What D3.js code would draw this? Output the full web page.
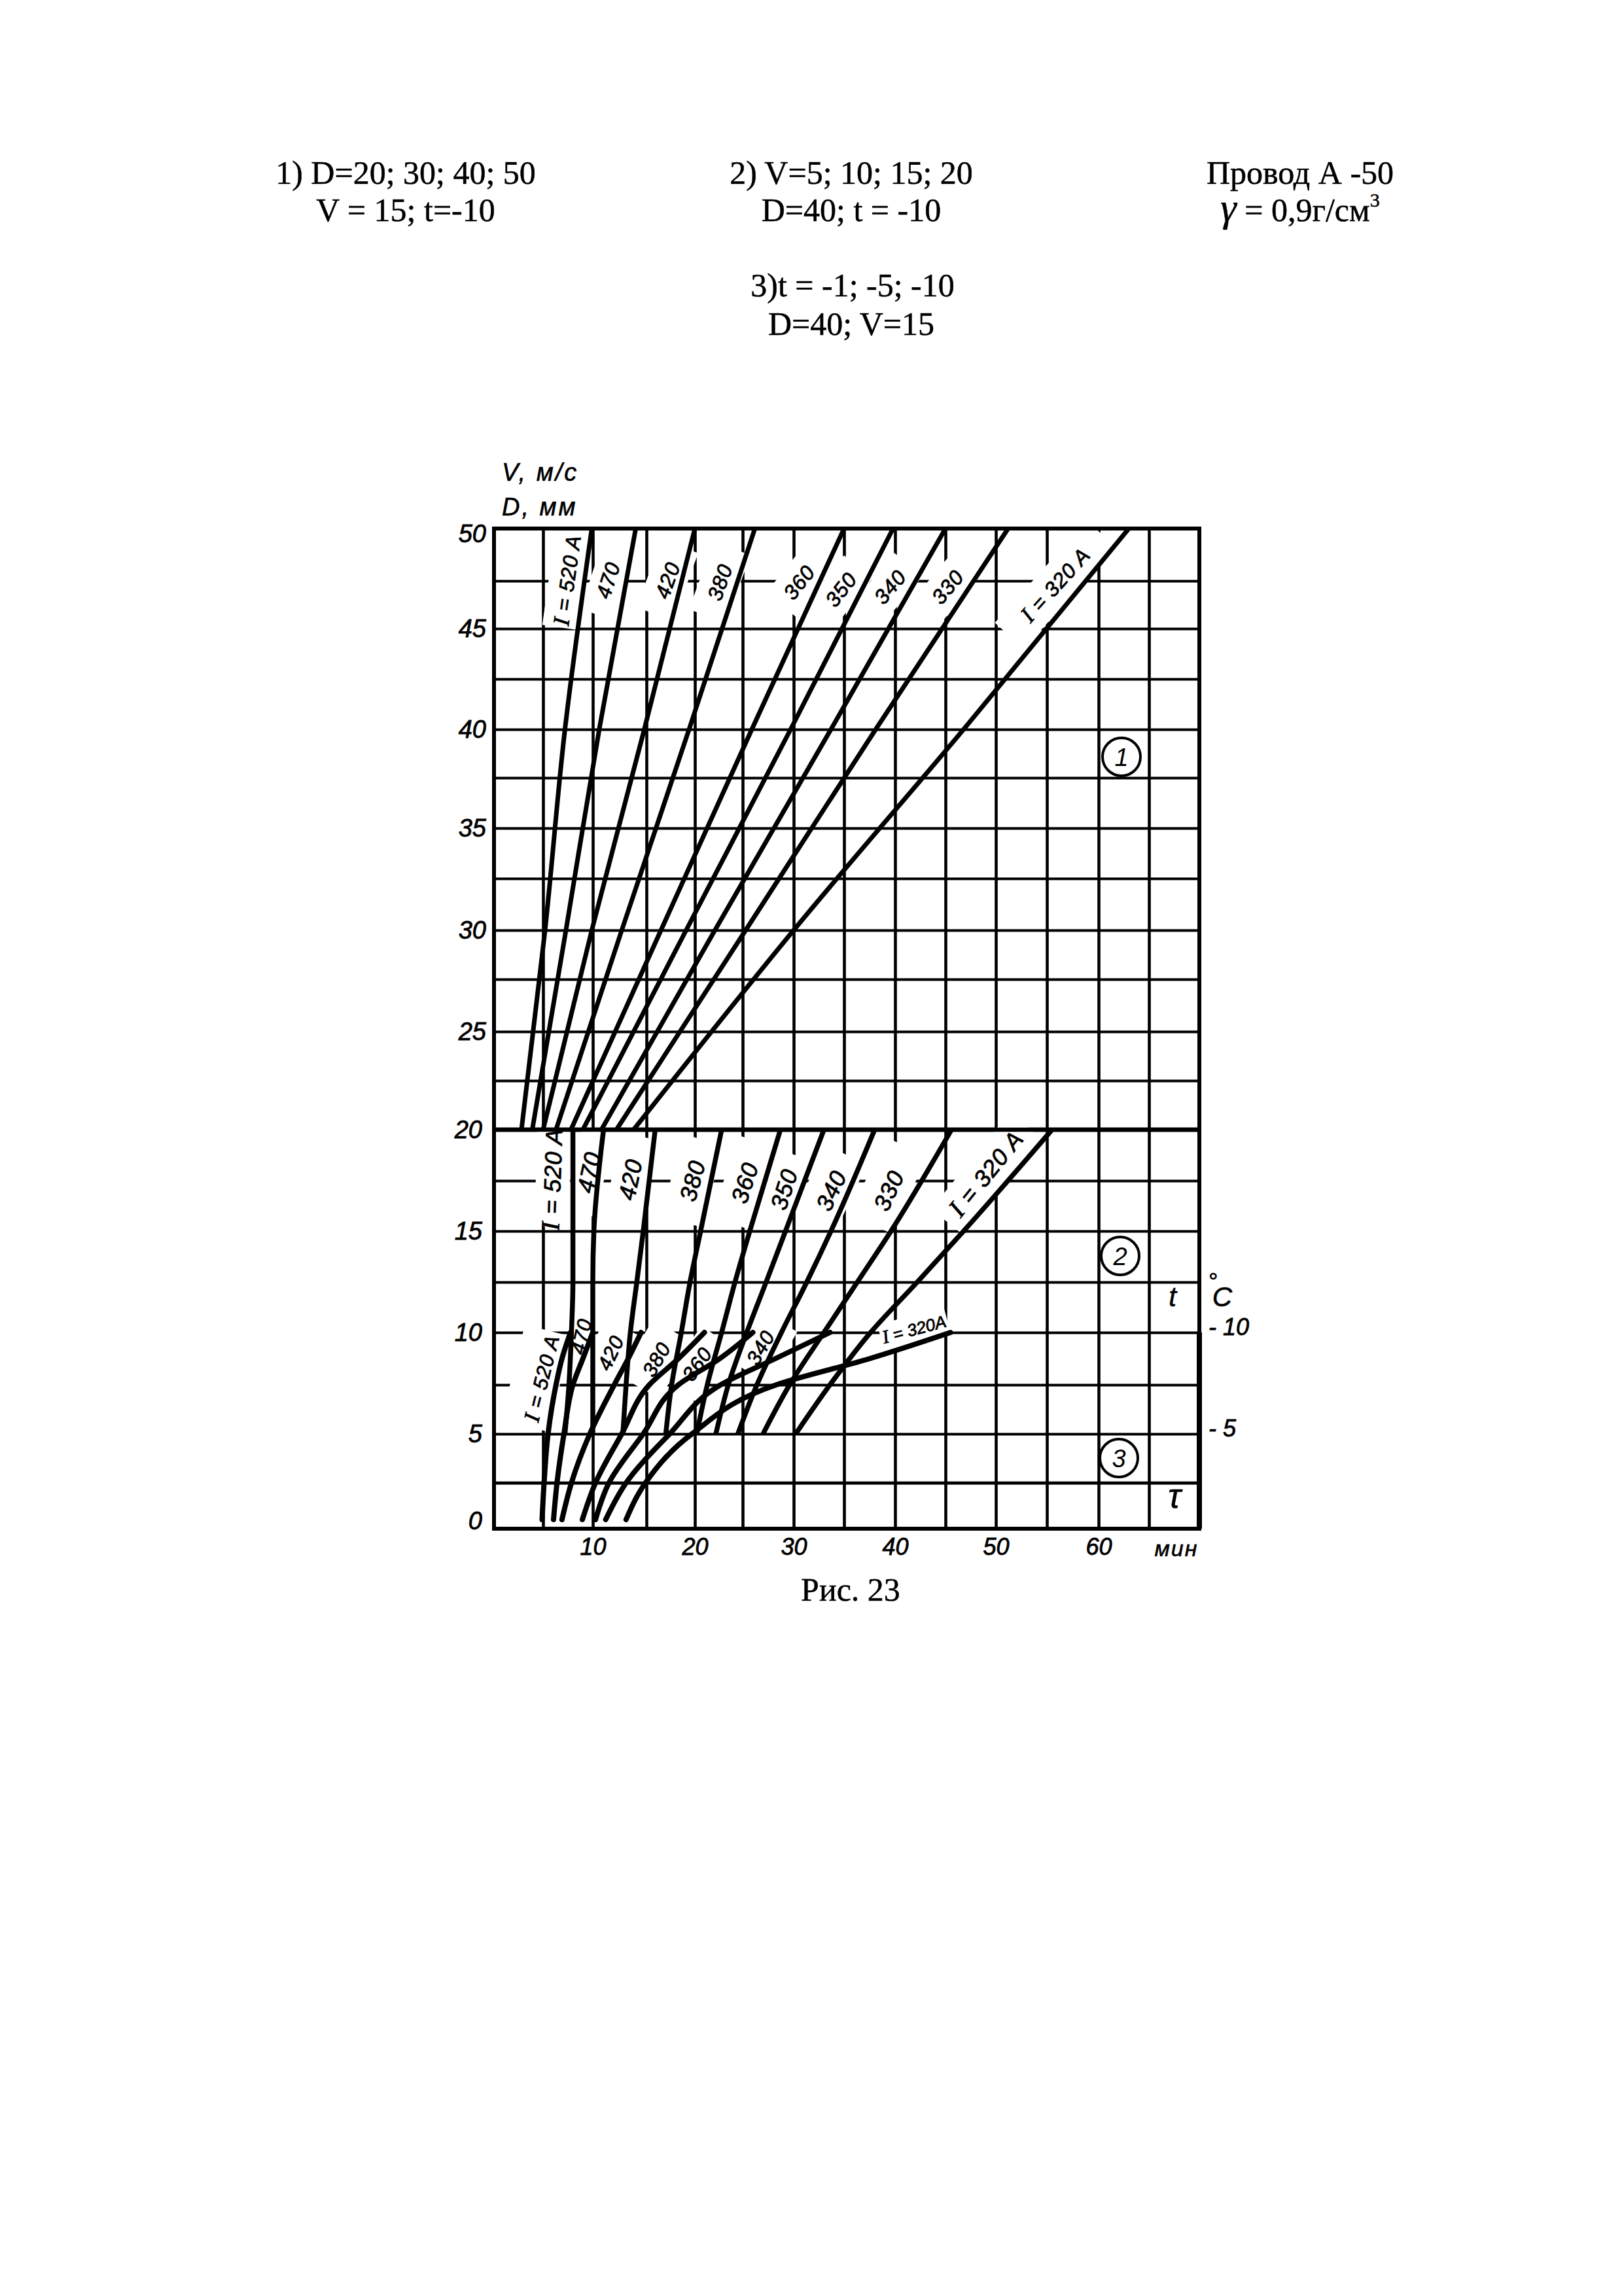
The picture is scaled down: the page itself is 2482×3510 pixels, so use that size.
<!DOCTYPE html>
<html><head><meta charset="utf-8">
<script src="https://cdn.jsdelivr.net/npm/d3@7/dist/d3.min.js"></script>
<style>html,body{margin:0;padding:0;background:#fff}svg{display:block}</style>
</head><body><div id="c"></div>
<script>
// ---- grid (minutes, V/D values) and the scan's pixel positions of those lines
const gridMinutes=[0,5,10,15,20,25,30,35,40,45,50,55,60,65,70];
const gridLevels=[0,2.5,5,7.5,10,12.5,15,17.5,20,22.5,25,27.5,30,32.5,35,37.5,40,42.5,45,47.5,50];
const minuteTicks=[10,20,30,40,50,60];
const levelTicks=[0,5,10,15,20,25,30,35,40,45,50];
const tempTicks=[5,10];

// ---- curve labels
const labels1=["I = 520 A","470","420","380","360","350","340","330","I = 320 A"];
const labels2=["I = 520 A","470","420","380","360","350","340","330","I = 320 A"];
const labels3=["I = 520 A","470","420","380","360","340","I = 320A"];

// ---- panel 1: D from 20 to 50 mm, minutes per curve
const levels1=[20,30,40,50];
const minutes1=[
 [2.8,5.2,7.2,9.9],[3.9,7.3,10.6,14],[5,9.9,14.8,20],[6.3,12.7,19.4,26.2],
 [7.8,16.5,25.9,35],[9,19.1,29.7,39.8],[10.8,22.1,33.7,45],[12.2,25.3,38.1,51.2],[13.8,30,46.8,63]];

// ---- panel 2: V from 5 to 20 m/s
const levels2=[5,7.5,10,12.5,15,20];
const minutes2=[
 [7.2,7.6,7.85,8,8,8],[10,10,10,10,10.1,11],[12.8,13.1,13.5,14.1,14.7,15.9],
 [17,17.6,18.6,19.5,20.6,22.8],[20.2,21.3,22.8,24.2,25.7,28.7],[22.2,23.5,25.4,27.3,29.2,33],
 [24.5,26.4,28.8,31.3,33.7,38],[27,29.6,33,36.3,39.6,45.6],[30.2,33.6,37.6,42.2,46.8,55.5]];

// ---- panel 3: t from -1 to -10 (same vertical scale)
const levels3=[0.5,2.5,5,7.5,8.75,10];
const minutes3=[
 [4.9,5.1,5.5,6.3,6.9,7.75],[6.05,6.4,7.1,8,9,10],[6.9,7.85,9.7,12,13.3,14.5],
 [8.95,10.25,12.7,15.3,18.3,21],[10.25,11.5,14.7,18.3,22.6,26],[11.2,13.1,17.4,22.7,28.2,33.6],
 [13.1,14.9,19.7,28.3,37.5,45.5]];

// ---- page layout
const W=2482,H=3510;
const xPx=[755,830,906,988,1062,1135,1213,1290,1368,1445,1522,1600,1679,1756,1833];
const yPx=[2337,2267,2192,2117,2037,1960,1882,1805,1727,1652,1577,1497,1422,1343,1266,1189,1115,1038,961,888,808];
const x=d3.scaleLinear().domain(gridMinutes).range(xPx);
const y=d3.scaleLinear().domain(gridLevels).range(yPx);
const BLACK="#000",SERIF="'Liberation Serif',serif",SANS="'Liberation Sans',sans-serif";

const svg=d3.select("#c").append("svg").attr("width",W).attr("height",H).attr("viewBox",[0,0,W,H]);
svg.append("rect").attr("width",W).attr("height",H).attr("fill","#fff");

// header text
const header=[
 ["1) D=20; 30; 40; 50",620,281],["V = 15; t=-10",620,338],
 ["2) V=5; 10; 15; 20",1301,281],["D=40; t = -10",1301,338],
 ["Провод А -50",1987,281],
 ["3)t = -1; -5; -10",1303,453],["D=40; V=15",1301,512],
 ["Рис. 23",1300,2447]];
svg.append("g").selectAll("text").data(header).join("text")
 .attr("x",d=>d[1]).attr("y",d=>d[2]).attr("text-anchor","middle")
 .attr("font-family",SERIF).attr("font-size",50).attr("fill",BLACK)
 .attr("stroke",BLACK).attr("stroke-width",0.5).text(d=>d[0]);
const gam=svg.append("text").attr("x",1987).attr("y",338).attr("text-anchor","middle")
 .attr("font-family",SERIF).attr("font-size",50).attr("fill",BLACK)
 .attr("stroke",BLACK).attr("stroke-width",0.5);
gam.append("tspan").attr("font-style","italic").attr("font-size",62).text("γ");
gam.append("tspan").text(" = 0,9г/см");
gam.append("tspan").attr("font-size",30).attr("dy",-22).text("3");

// grid via axes
const gv=svg.append("g").attr("transform",`translate(0,${y(0)})`)
 .call(d3.axisBottom(x).tickValues(gridMinutes).tickSize(-(y(0)-y(50))).tickFormat(""));
gv.select(".domain").remove();
gv.selectAll("line").attr("stroke",BLACK).attr("stroke-width",4.6);
const gh=svg.append("g").attr("transform",`translate(${x(0)},0)`)
 .call(d3.axisRight(y).tickValues(gridLevels).tickSize(x(70)-x(0)).tickFormat(""));
gh.select(".domain").remove();
gh.selectAll("line").attr("stroke",BLACK).attr("stroke-width",4);

// heavy rules
const heavy=[[20,6.5],[2.5,4.5]];
svg.append("g").selectAll("line").data(heavy).join("line")
 .attr("x1",x(0)).attr("x2",x(70)).attr("y1",d=>y(d[0])).attr("y2",d=>y(d[0]))
 .attr("stroke",BLACK).attr("stroke-width",d=>d[1]);

// white patches the drawing left behind its curve labels: [cx,cy,angle,length,height]
const patches=[
 [867,885,-82,150,56],[929,887,-72,110,52],[1020,887,-70,110,60],[1100,890,-70,110,60],
 [1221,890,-51,88,58],[1285,901,-52,88,56],[1360,897,-50,88,56],[1448,897,-50,88,56],[1613,894,-48,210,60],
 [845,1800,-88,150,52],[900,1792,-78,130,50],[963,1803,-78,135,56],[1058,1805,-75,130,64],
 [1138,1808,-70,130,62],[1198,1818,-70,110,56],[1270,1815,-65,110,70],[1358,1812,-65,130,70],[1507,1794,-51,190,62],
 [820,2107,-76,150,74],[888,2043,-77,90,38],[933,2068,-65,85,60],[1003,2078,-60,100,70],[1068,2085,-55,100,60],
 [1170,2060,-60,90,60],[1397,2032,-15,105,42]];
svg.append("g").selectAll("rect").data(patches).join("rect")
 .attr("x",d=>-d[3]/2).attr("y",d=>-d[4]/2).attr("width",d=>d[3]).attr("height",d=>d[4])
 .attr("transform",d=>`translate(${d[0]},${d[1]}) rotate(${d[2]})`).attr("fill","#fff");

// y=20 rule and the frame stay whole over the patches
svg.append("line").attr("x1",x(0)).attr("x2",x(70)).attr("y1",y(20)).attr("y2",y(20))
 .attr("stroke",BLACK).attr("stroke-width",6.5);
svg.append("rect").attr("x",x(0)).attr("y",y(50)).attr("width",x(70)-x(0)).attr("height",y(0)-y(50))
 .attr("fill","none").attr("stroke",BLACK).attr("stroke-width",6);
svg.append("line").attr("x1",x(70)).attr("x2",x(70)).attr("y1",y(10)).attr("y2",y(0))
 .attr("stroke",BLACK).attr("stroke-width",8);

// curves
function drawPanel(levels,minutes,width,cap){
 const line=d3.line().x(d=>x(d[0])).y(d=>y(d[1])).curve(d3.curveMonotoneY);
 svg.append("g").selectAll("path").data(minutes).join("path")
  .attr("d",m=>line(m.map((v,i)=>[v,levels[i]])))
  .attr("fill","none").attr("stroke",BLACK).attr("stroke-width",width).attr("stroke-linecap",cap);
}
drawPanel(levels1,minutes1,7,"butt");
drawPanel(levels2,minutes2,7.5,"butt");
drawPanel(levels3,minutes3,8,"round");

// curve labels: [cx,cy,angle]
const place1=[[867,887,-82],[929,887,-72],[1020,887,-70],[1100,890,-70],[1221,890,-52],[1285,901,-52],[1360,897,-50],[1448,897,-50],[1613,894,-48]];
const place2=[[844,1803,-88],[900,1792,-78],[963,1803,-78],[1058,1805,-75],[1138,1808,-72],[1198,1818,-72],[1270,1820,-65],[1358,1820,-65],[1507,1794,-51]];
const place3=[[828,2107,-76],[888,2043,-77],[933,2068,-65],[1003,2078,-60],[1065,2085,-55],[1162,2060,-60],[1397,2032,-15]];
function drawLabels(names,place,size,sp){
 const t=svg.append("g").selectAll("text").data(names).join("text")
  .attr("text-anchor","middle").attr("dy","0.36em")
  .attr("transform",(d,i)=>`translate(${place[i][0]},${place[i][1]}) rotate(${place[i][2]})`)
  .attr("font-family",SANS).attr("font-style","italic").attr("font-size",size)
  .attr("letter-spacing",sp).attr("fill",BLACK).attr("stroke",BLACK).attr("stroke-width",0.8);
 // the drawing's capital I carries serifs
 t.each(function(d){
  const s=d3.select(this);
  if(d[0]==="I"){
   s.append("tspan").attr("font-family",SERIF).attr("font-size",size*1.1).text("I");
   s.append("tspan").text(d.slice(1));
  } else s.text(d);
 });
}
drawLabels(labels1,place1,32,1);
drawLabels(labels2,place2,36,1);
drawLabels(labels3.slice(0,6),place3.slice(0,6),31,1);
drawLabels(labels3.slice(6),place3.slice(6),26,0);

// tick labels via axes
function styleAxis(g,size){
 g.select(".domain").remove();
 g.selectAll("line").remove();
 g.selectAll("text").attr("font-family",SANS).attr("font-style","italic")
  .attr("font-size",size).attr("fill",BLACK).attr("stroke",BLACK).attr("stroke-width",0.8);
}
const ay=svg.append("g").attr("transform",`translate(${x(0)},0)`)
 .call(d3.axisLeft(y).tickValues(levelTicks).tickSize(0).tickPadding(12).tickFormat(d=>d));
styleAxis(ay,38);
ay.selectAll("text").attr("dx",d=>d<=20?-6:0).attr("dy",d=>d===0?"-0.0em":d===50?"0.55em":"0.32em");
const ax=svg.append("g").attr("transform",`translate(0,${y(0)})`)
 .call(d3.axisBottom(x).tickValues(minuteTicks).tickSize(0).tickPadding(14).tickFormat(d=>d));
styleAxis(ax,36);
const at=svg.append("g").attr("transform",`translate(${x(70)},0)`)
 .call(d3.axisRight(y).tickValues(tempTicks).tickSize(0).tickPadding(14).tickFormat(d=>"- "+d));
styleAxis(at,36);
at.selectAll("text").attr("dy","0.1em");

// free texts
const notes=[
 ["V, м/с",767,735,38,"start",3],["D, мм",767,788,38,"start",3],
 ["мин",1798,2379,34,"middle",2],["t",1792,1997,42,"middle",0],["C",1868,1997,42,"middle",0],
 ["°",1853,1972,36,"middle",0],["τ",1795,2305,52,"middle",0]];
svg.append("g").selectAll("text").data(notes).join("text")
 .attr("x",d=>d[1]).attr("y",d=>d[2]).attr("font-size",d=>d[3]).attr("text-anchor",d=>d[4])
 .attr("letter-spacing",d=>d[5]).attr("font-family",SANS).attr("font-style","italic")
 .attr("fill",BLACK).attr("stroke",BLACK).attr("stroke-width",0.6).text(d=>d[0]);

// circled panel numbers
const circles=[["1",1714,1157],["2",1712,1920],["3",1710,2229]];
const cg=svg.append("g").selectAll("g").data(circles).join("g").attr("transform",d=>`translate(${d[1]},${d[2]})`);
cg.append("circle").attr("r",29).attr("fill","#fff").attr("stroke",BLACK).attr("stroke-width",4);
cg.append("text").attr("text-anchor","middle").attr("dy","0.36em").attr("font-family",SANS).attr("font-style","italic")
 .attr("font-size",38).attr("fill",BLACK).text(d=>d[0]);
</script></body></html>
